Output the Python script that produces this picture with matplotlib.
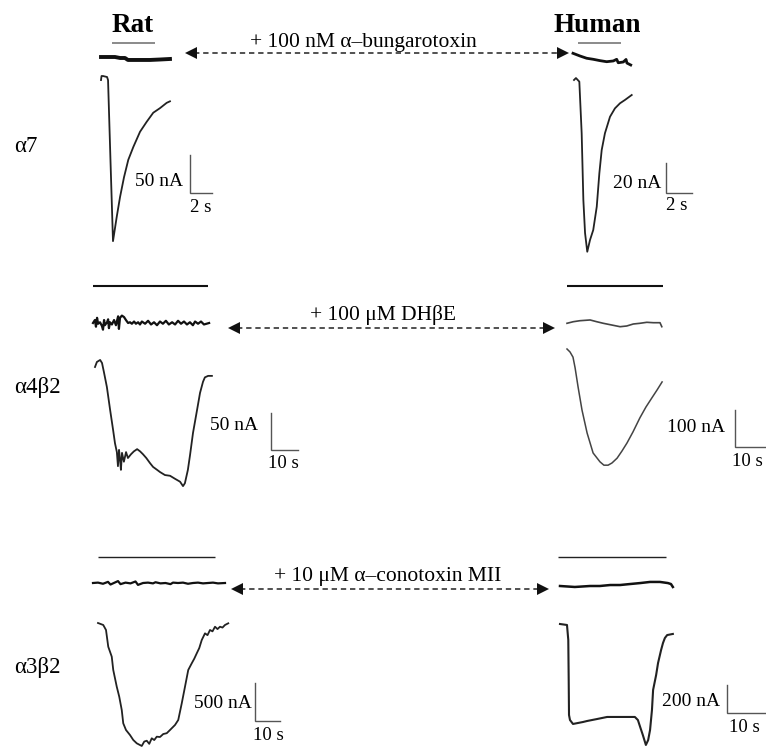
import numpy as np
import matplotlib
matplotlib.use('Agg')
import matplotlib.pyplot as plt

plt.rcParams['font.family'] = ['Liberation Serif', 'DejaVu Serif']

# --- recordings: (time s, current nA) ---
rat_a7_ctrl = [(0, -4), (0.05, 1.3), (0.18, 1.3), (0.55, 0), (0.64, -4), (0.86, -109),
               (1.09, -216), (1.43, -184), (1.73, -158), (2.09, -132), (2.48, -109),
               (2.94, -92), (3.55, -72), (4.15, -59), (4.75, -47), (5.36, -41),
               (5.97, -34), (6.27, -32)]
rat_a7_block = [(0, 0), (1.27, 0), (1.73, -1.3), (2.18, -1.3), (2.45, -3.9), (3.55, -3.9),
                (4.45, -3.9), (5.36, -3.3), (6.27, -2.6)]

hum_a7_ctrl = [(0, 0), (0.15, 1.3), (0.41, -1.1), (0.59, -35.5), (0.72, -80), (0.85, -102),
               (1.02, -114.5), (1.23, -106.7), (1.48, -100), (1.75, -84.5), (1.95, -62.2),
               (2.13, -46.7), (2.38, -35.5), (2.77, -24.5), (3.15, -18.9), (3.54, -15.5),
               (3.92, -13.3), (4.44, -10)]
hum_a7_block = [(0, 0), (0.54, -1.8), (1.05, -3.3), (1.56, -4), (2.08, -4.9), (2.59, -5.6),
                (3.1, -5.1), (3.36, -4), (3.48, -6.3), (3.87, -5.8), (4.08, -4.1),
                (4.15, -6.5), (4.44, -7.8)]

rat_a4b2_ctrl = [(0, 0), (0.7, 6.8), (1.9, 9.5), (2.6, 5.4), (3.3, -6.8), (4.4, -27),
                 (5.6, -58), (6.7, -85), (7.4, -103), (8.1, -115), (8.5, -134), (8.9, -112),
                 (9.3, -126), (9.6, -139), (10.0, -116), (10.7, -128), (11.5, -115),
                 (12.2, -123), (13.3, -118), (14.4, -114), (15.6, -111), (16.7, -114),
                 (17.8, -118), (19.0, -123), (20.4, -130), (21.5, -135), (23.0, -139),
                 (24.1, -142), (25.9, -146), (27.8, -147), (29.6, -151), (31.5, -155),
                 (32.6, -161), (33.3, -157), (34.4, -139), (35.2, -119), (36.3, -89),
                 (37.8, -58), (38.9, -35), (40.0, -20), (40.7, -14), (41.9, -12), (43.3, -12)]
rat_a4b2_block = [(0, 0), (0.7, 4), (1.1, -5), (1.5, 7), (1.9, -1), (2.6, 1), (3.3, -4),
                  (3.7, -9), (4.1, 4), (4.4, -3), (5.2, 1), (5.6, 5), (5.9, -7), (6.3, 1),
                  (7.0, -2), (7.8, 4), (8.5, -3), (9.3, 9), (9.6, -8), (10.0, 7), (10.7, 10),
                  (11.5, 8), (12.2, 4), (13.0, 0), (13.7, 1), (14.4, -1), (15.2, 2),
                  (15.9, -1), (16.7, 1), (17.4, -2), (18.1, 2), (19.3, -1), (20.4, 3),
                  (21.5, -2), (22.6, 1), (23.7, -3), (24.8, 2), (25.9, -1), (27.0, 3),
                  (28.1, -2), (29.3, 1), (30.4, -2), (31.5, 3), (32.6, -1), (33.7, 2),
                  (34.8, -2), (35.9, 1), (37.0, -3), (37.8, 2), (38.9, -1), (40.0, 2),
                  (41.1, -2), (43.0, 0)]

hum_a4b2_ctrl = [(0, 0), (1.0, -8), (2.0, -22), (2.7, -51), (3.7, -103), (5.0, -165),
                 (6.7, -227), (8.7, -281), (11.0, -305), (12.3, -314), (13.7, -314),
                 (15.0, -308), (16.7, -295), (18.3, -276), (20.0, -254), (22.0, -224),
                 (24.3, -186), (26.3, -157), (28.3, -132), (30.0, -111), (31.7, -89)]
hum_a4b2_block = [(0, 0), (2.1, 4.3), (4.3, 7), (7.7, 9), (9.9, 4.3), (12.1, 0), (14.9, -4.6),
                  (17.7, -9.2), (19.9, -7.3), (22.1, -1.9), (24.3, 0), (26.6, 2.7),
                  (28.8, 1.6), (31.0, 1.6), (31.6, -9.2)]

rat_a3b2_ctrl = [(0, 0), (2.1, -26), (3.2, -92), (4.1, -312), (5.5, -443), (6.1, -618),
                 (7.5, -838), (8.5, -970), (9.5, -1145), (10.1, -1320), (11.2, -1408),
                 (12.8, -1474), (14.1, -1539), (15.5, -1583), (17.5, -1618), (18.5, -1560),
                 (19.5, -1549), (20.5, -1590), (21.5, -1517), (22.5, -1540), (23.5, -1496),
                 (24.8, -1500), (26.1, -1461), (27.5, -1450), (28.8, -1408), (30.8, -1342),
                 (32.1, -1276), (33.5, -1057), (34.8, -838), (36.1, -618), (37.5, -530),
                 (38.5, -470), (39.5, -399), (40.5, -330), (41.5, -224), (42.8, -136),
                 (43.8, -160), (44.8, -92), (45.8, -110), (46.8, -49), (47.8, -80),
                 (48.8, -49), (49.8, -60), (50.8, -26), (52.1, -4)]
rat_a3b2_block = [(0, 0), (2, 5), (4, -10), (6, 15), (7, -20), (9, 10), (10, 25), (11, -15),
                  (13, 5), (15, -5), (17, 20), (18, -25), (20, 0), (22, 5), (24, -5), (25, 10),
                  (27, -5), (29, 0), (31, -15), (32, 5), (34, 0), (36, 5), (38, -10), (40, 0),
                  (42, 5), (44, -5), (46, 0), (48, 5), (50, -5), (52.8, 0)]

hum_a3b2_ctrl = [(0, 0), (1.84, -7), (2.18, -114), (2.29, -400), (2.37, -650), (2.63, -686),
                 (3.42, -714), (4.74, -707), (6.05, -700), (7.1, -693), (9.7, -679),
                 (12.4, -664), (15.8, -664), (19.7, -664), (20.5, -686), (21.1, -736),
                 (21.8, -793), (22.6, -864), (23.2, -829), (23.7, -757), (24.2, -614),
                 (24.5, -471), (25.3, -364), (25.8, -279), (26.6, -186), (27.1, -136),
                 (27.6, -100), (28.2, -79), (29.7, -71)]
hum_a3b2_block = [(0, 0), (3.9, -7), (7.9, 0), (10.5, 0), (13.2, 7), (15.8, 7), (18.4, 14),
                  (21.1, 21), (23.7, 29), (26.3, 29), (28.4, 21), (29.2, 14), (29.7, -7)]

# agonist application windows (s)
rat_a7_app = (1.0, 4.9)
hum_a7_app = (0.3, 3.6)
rat_a4b2_app = (-0.7, 41.9)
hum_a4b2_app = (0.0, 32.0)
rat_a3b2_app = (0.0, 46.8)
hum_a3b2_app = (-0.5, 27.9)

# scale bars: (nA, s)
scale_bars = [(50, 2), (20, 2), (50, 10), (100, 10), (500, 10), (200, 10)]

species = ['Rat', 'Human']
receptors = ['\u03b17', '\u03b14\u03b22', '\u03b13\u03b22']
blockers = ['+ 100 nM \u03b1\u2013bungarotoxin', '+ 100 \u03bcM DH\u03b2E',
            '+ 10 \u03bcM \u03b1\u2013conotoxin MII']

# --- layout (pixels) ---
W, H = 766, 747
fig = plt.figure(figsize=(W / 100, H / 100), dpi=100)
ov = fig.add_axes([0, 0, 1, 1], facecolor='none')
ov.set_xlim(0, W)
ov.set_ylim(H, 0)
ov.axis('off')


def trace_axes(x0, y0, px_s, px_nA):
    ax = fig.add_axes([0, 0, 1, 1], facecolor='none')
    ax.set_xlim(-x0 / px_s, (W - x0) / px_s)
    ax.set_ylim((y0 - H) / px_nA, y0 / px_nA)
    ax.axis('off')
    return ax


# panel: ctrl, block, app, ctrl origin, block origin, px/s, px/nA, bar y, bar style,
#        trace styles, scalebar corner, nA label pos, s label pos
panels = [
    (rat_a7_ctrl, rat_a7_block, rat_a7_app, (101, 77), (101, 57), 11, 0.76, 43,
     dict(color='#8a8a8a', lw=1.4), dict(lw=1.3, color='#222'), dict(lw=2.8, color='#111'),
     (190, 193), (183, 182), (190, 208)),
    (hum_a7_ctrl, hum_a7_block, hum_a7_app, (574, 80), (573, 53.3), 13, 1.5, 43,
     dict(color='#8a8a8a', lw=1.4), dict(lw=1.3, color='#222'), dict(lw=2.0, color='#111'),
     (666, 193), (661, 183), (666, 206)),
    (rat_a4b2_ctrl, rat_a4b2_block, rat_a4b2_app, (95, 367), (93, 323), 2.7, 0.74, 286,
     dict(color='#111', lw=1.5), dict(lw=1.3, color='#222'), dict(lw=1.6, color='#111'),
     (271, 450), (258, 425), (268, 463)),
    (hum_a4b2_ctrl, hum_a4b2_block, hum_a4b2_app, (567, 349), (567, 323.3), 3.0, 0.37, 286,
     dict(color='#111', lw=1.5), dict(lw=1.1, color='#444'), dict(lw=1.2, color='#444'),
     (735, 447), (725, 428), (732, 462)),
    (rat_a3b2_ctrl, rat_a3b2_block, rat_a3b2_app, (98, 623), (93, 583), 2.5, 0.076, 557,
     dict(color='#222', lw=1.0), dict(lw=1.3, color='#222'), dict(lw=1.6, color='#111'),
     (255, 721), (252, 703), (253, 735)),
    (hum_a3b2_ctrl, hum_a3b2_block, hum_a3b2_app, (560, 624), (560, 586), 3.8, 0.14, 557,
     dict(color='#222', lw=1.0), dict(lw=1.5, color='#222'), dict(lw=1.8, color='#111'),
     (727, 713), (720, 701), (729, 728)),
]

for (ctrl, block, app, oc, ob, px_s, px_nA, bar_y, bar_kw, ctrl_kw, block_kw,
     corner, nA_pos, s_pos), (nA, sec) in zip(panels, scale_bars):
    ax_c = trace_axes(oc[0], oc[1], px_s, px_nA)
    t, i = np.array(ctrl).T
    ax_c.plot(t, i, solid_joinstyle='round', **ctrl_kw)

    ax_b = trace_axes(ob[0], ob[1], px_s, px_nA)
    t, i = np.array(block).T
    ax_b.plot(t, i, solid_joinstyle='round', **block_kw)

    # application bar
    ax_bar = trace_axes(oc[0], bar_y, px_s, px_nA)
    ax_bar.plot(app, [0, 0], solid_capstyle='butt', **bar_kw)

    # scale bar
    ax_s = trace_axes(corner[0], corner[1], px_s, px_nA)
    ax_s.plot([0, 0, sec], [nA, 0, 0], color='#555', lw=1.0, solid_joinstyle='miter')
    ov.text(nA_pos[0], nA_pos[1], f'{nA} nA', ha='right', va='center', fontsize=14)
    ov.text(s_pos[0], s_pos[1], f'{sec} s', ha='left', va='center', fontsize=13.5)

# headers and row labels
for name, x in zip(species, [133, 597]):
    ov.text(x, 25, name, ha='center', va='center', fontsize=19.5, fontweight='bold')
for lab, y in zip(receptors, [147, 388, 667]):
    ov.text(14, y, lab, ha='left', va='center', fontsize=16.5)

# blocker arrows
arrows = [((187, 567), 53, (363, 42)), ((230, 553), 328, (383, 315)), ((233, 547), 589, (388, 577))]
for text, ((xa, xb), y, (tx, ty)) in zip(blockers, arrows):
    ov.plot([xa + 7, xb - 7], [y, y], ls=(0, (3.5, 2.5)), color='#222', lw=1.1)
    ov.plot([xa + 4], [y], marker='<', ms=8, color='#111', mew=0)
    ov.plot([xb - 4], [y], marker='>', ms=8, color='#111', mew=0)
    ov.text(tx, ty, text, ha='center', va='center', fontsize=15.5)

fig.savefig('out.png', dpi=100)
